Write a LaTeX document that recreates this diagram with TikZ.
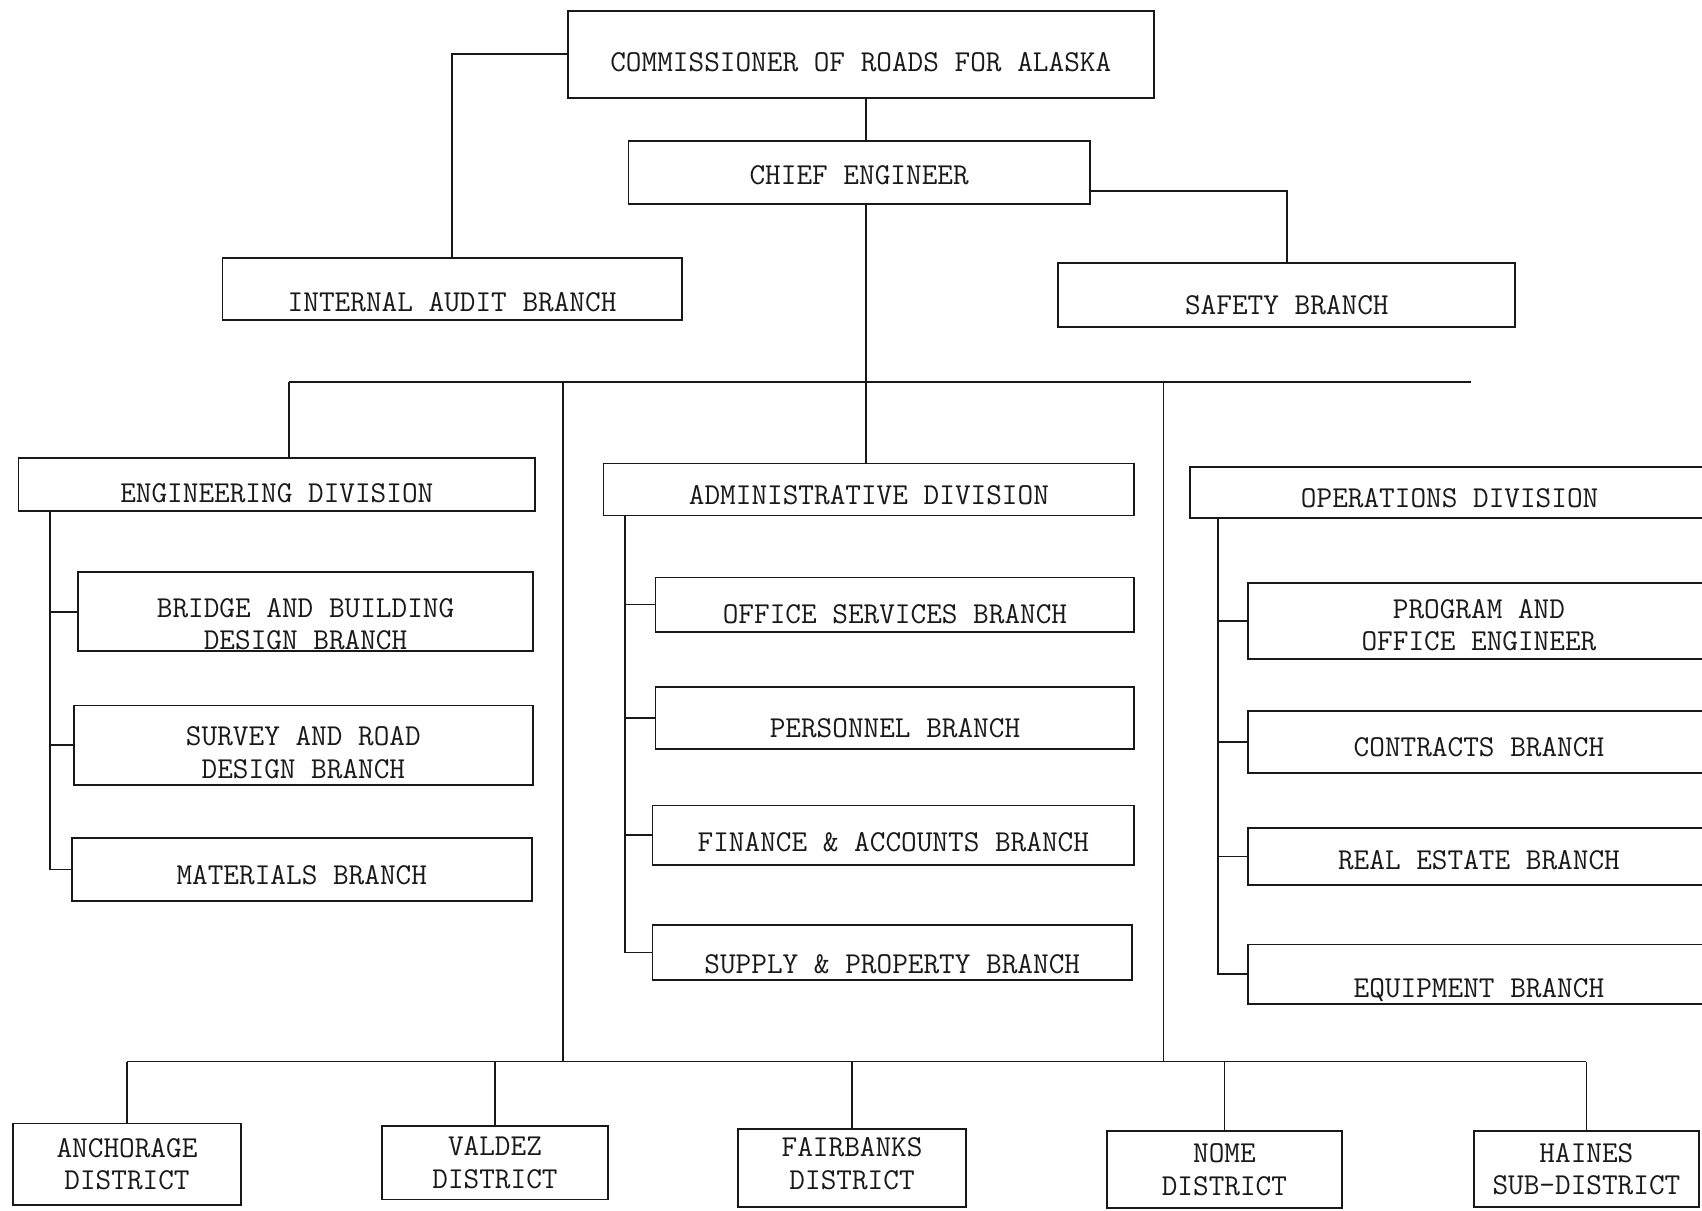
\documentclass[tikz,border=0pt]{standalone}
\usepackage{tikz}
\definecolor{inkblack}{RGB}{25, 25, 25}
\tikzset{
  orgbox/.style={draw=inkblack, line width=0.8pt, inner sep=0pt, align=center, text=inkblack,
                 font=\ttfamily\fontsize{14}{15}\selectfont},
  textdrop/.style={text height=#1, text depth=0pt},
  orgline/.style={draw=inkblack, line width=0.8pt}
}

\begin{document}
\begin{tikzpicture}[x=0.5pt, y=-0.5pt]
            \clip (0,0) rectangle (1568,1115);
            \fill[white] (0,0) rectangle (1568,1115);

            \node[orgbox, textdrop=15.6pt, minimum width=270pt,   minimum height=40pt]   (comm)       at ( 793.0,  50.0) {COMMISSIONER OF ROADS FOR ALASKA};
            \node[orgbox, textdrop=10.6pt, minimum width=212.5pt, minimum height=29pt]   (chief)      at ( 791.5, 159.0) {CHIEF ENGINEER};
            \node[orgbox, textdrop=20.6pt, minimum width=211.5pt, minimum height=28.5pt] (audit)      at ( 416.5, 266.5) {INTERNAL AUDIT BRANCH};
            \node[orgbox, textdrop=18.6pt, minimum width=210.5pt, minimum height=29.5pt] (safety)     at (1185.5, 271.5) {SAFETY BRANCH};

            \node[orgbox, textdrop=16.6pt, minimum width=238pt,   minimum height=24.5pt] (engdiv)     at ( 255.0, 446.5) {ENGINEERING DIVISION};
            \node[orgbox, textdrop=13.6pt, minimum width=244.5pt, minimum height=24pt]   (admdiv)     at ( 800.5, 451.0) {ADMINISTRATIVE DIVISION};
            \node[orgbox, textdrop=13.6pt, minimum width=239.5pt, minimum height=23.5pt] (opsdiv)     at (1335.5, 453.5) {OPERATIONS DIVISION};

            \node[orgbox, textdrop=35pt,   minimum width=209.5pt, minimum height=36.5pt] (bridge)     at ( 281.5, 563.5) {BRIDGE AND BUILDING\\DESIGN BRANCH};
            \node[orgbox, textdrop=30.6pt, minimum width=211.5pt, minimum height=36.5pt] (survey)     at ( 279.5, 686.5) {SURVEY AND ROAD\\DESIGN BRANCH};
            \node[orgbox, textdrop=13.6pt, minimum width=212pt,   minimum height=29pt]   (materials)  at ( 278.0, 801.0) {MATERIALS BRANCH};

            \node[orgbox, textdrop=17.6pt, minimum width=220.5pt, minimum height=25pt]   (office)     at ( 824.5, 557.0) {OFFICE SERVICES BRANCH};
            \node[orgbox, textdrop=17.6pt, minimum width=220.5pt, minimum height=28.5pt] (personnel)  at ( 824.5, 661.5) {PERSONNEL BRANCH};
            \node[orgbox, textdrop=14.6pt, minimum width=222pt,   minimum height=27.5pt] (finance)    at ( 823.0, 769.5) {FINANCE \& ACCOUNTS BRANCH};
            \node[orgbox, textdrop=19.6pt, minimum width=221pt,   minimum height=25.5pt] (supply)     at ( 822.0, 877.5) {SUPPLY \& PROPERTY BRANCH};

            \node[orgbox, textdrop=27.6pt, minimum width=212.5pt, minimum height=35pt]   (program)    at (1362.5, 572.0) {PROGRAM AND\\OFFICE ENGINEER};
            \node[orgbox, textdrop=13.6pt, minimum width=212.5pt, minimum height=28.5pt] (contracts)  at (1362.5, 683.5) {CONTRACTS BRANCH};
            \node[orgbox, textdrop=11.6pt, minimum width=212.5pt, minimum height=26pt]   (realestate) at (1362.5, 789.0) {REAL ESTATE BRANCH};
            \node[orgbox, textdrop=21.6pt, minimum width=212.5pt, minimum height=27.5pt] (equipment)  at (1362.5, 897.5) {EQUIPMENT BRANCH};

            \node[orgbox, minimum width=105pt,   minimum height=37.5pt]                  (anch)       at ( 117.0,1072.5) {ANCHORAGE\\DISTRICT};
            \node[orgbox, minimum width=104pt,   minimum height=34pt]                    (valdez)     at ( 456.0,1071.0) {VALDEZ\\DISTRICT};
            \node[orgbox, textdrop=19.6pt, minimum width=105pt,   minimum height=36pt]   (fairbanks)  at ( 785.0,1076.0) {FAIRBANKS\\DISTRICT};
            \node[orgbox, minimum width=108pt,   minimum height=35.5pt]                  (nome)       at (1128.0,1077.5) {NOME\\DISTRICT};
            \node[orgbox, minimum width=103.5pt, minimum height=35pt]                    (haines)     at (1461.5,1077.0) {HAINES\\SUB-DISTRICT};

            \coordinate (trunk)    at ( 798, 352);
            \coordinate (topbusW)  at ( 266, 352);
            \coordinate (topbusE)  at (1355, 352);
            \coordinate (linkA)    at ( 519, 352);
            \coordinate (linkB)    at (1072, 352);
            \coordinate (distbus)  at (   0, 978);
            \coordinate (engspine) at (  46, 471);
            \coordinate (admspine) at ( 576, 475);
            \coordinate (opsspine) at (1122, 477);

            \draw[orgline] (trunk |- comm.south) -- (trunk |- chief.north);
            \draw[orgline] (trunk |- chief.south) -- (trunk |- admdiv.north);
            \draw[orgline] (comm.west) -| (audit.north);
            \draw[orgline] ([yshift=-8.5pt]chief.east) -| (safety.north);
            \draw[orgline] (topbusW) -- (topbusE);
            \draw[orgline] (topbusW) -- (topbusW |- engdiv.north);
            \draw[orgline] (linkA) -- (linkA |- distbus);
            \draw[orgline] (linkB) -- (linkB |- distbus);

            \draw[orgline] (engspine) |- (materials.west);
            \foreach \b in {bridge, survey}
              \draw[orgline] (engspine |- \b.west) -- (\b.west);
            \draw[orgline] (admspine) |- (supply.west);
            \foreach \b in {office, personnel, finance}
              \draw[orgline] (admspine |- \b.west) -- (\b.west);
            \draw[orgline] (opsspine) |- (equipment.west);
            \foreach \b in {program, contracts, realestate}
              \draw[orgline] (opsspine |- \b.west) -- (\b.west);

            \draw[orgline] (anch.north |- distbus) -- (haines.north |- distbus);
            \foreach \d in {anch, valdez, fairbanks, nome, haines}
              \draw[orgline] (\d.north |- distbus) -- (\d.north);
        \end{tikzpicture}
\end{document}
